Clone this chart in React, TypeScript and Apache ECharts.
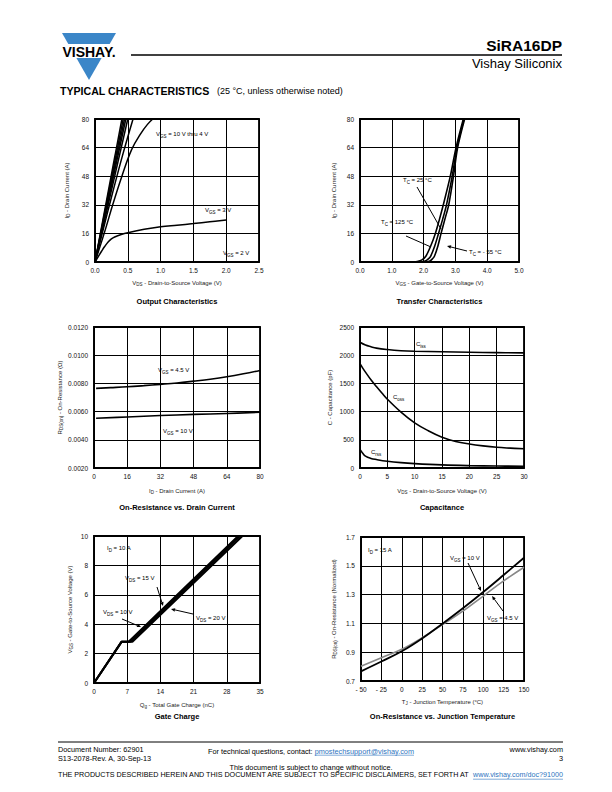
import { useEffect, useRef } from "react";
import * as echarts from "echarts";

const FONT = "Liberation Sans, Arial, Helvetica, sans-serif";

// ---------- Output Characteristics (VDS, ID) ----------
const outVgs10 = [[0, 0], [0.41, 80]];
const outVgs8 = [[0, 0], [0.43, 80]];
const outVgs7 = [[0, 0], [0.45, 80]];
const outVgs6 = [[0, 0], [0.47, 80]];
const outVgs5 = [[0, 0], [0.5, 80]];
const outVgs45 = [[0, 0], [0.2, 29], [0.4, 57], [0.58, 80]];
const outVgs4 = [[0, 0], [0.14, 16], [0.27, 32], [0.41, 48], [0.56, 63], [0.7, 72], [0.8, 77], [0.88, 80]];
const outVgs3 = [[0, 0], [0.05, 3], [0.1, 6], [0.15, 8.8], [0.2, 11.2], [0.25, 12.9], [0.3, 14], [0.4, 15.4], [0.5, 16.4], [0.75, 18.3], [1.0, 19.7], [1.25, 20.6], [1.5, 21.5], [1.75, 22.5], [2.0, 23.5]];
const outVgs2 = [[0, 0], [2.0, 0.1]];

// ---------- Transfer Characteristics (VGS, ID) ----------
const trT125 = [[0, 0], [1.6, 0], [1.8, 0.3], [1.95, 1.2], [2.07, 3.2], [2.22, 8.8], [2.37, 16], [2.5, 24], [2.62, 32], [2.84, 48], [3.02, 64], [3.25, 80]];
const trT25 = [[0, 0], [1.9, 0], [2.05, 0.5], [2.15, 1.8], [2.22, 3.2], [2.35, 9], [2.47, 16], [2.6, 24], [2.72, 32], [2.9, 48], [3.05, 64], [3.27, 80]];
const trTm55 = [[0, 0], [2.05, 0], [2.2, 0.6], [2.28, 1.8], [2.34, 3.2], [2.45, 9], [2.55, 16], [2.67, 24], [2.79, 32], [2.94, 48], [3.07, 64], [3.29, 80]];

// ---------- On-Resistance vs Drain Current (ID, RDS(on)) ----------
const ronVgs45 = [[1, 0.00765], [8, 0.0077], [16, 0.00776], [24, 0.00784], [32, 0.00793], [40, 0.00803], [48, 0.00816], [56, 0.0083], [64, 0.00847], [72, 0.00868], [80, 0.00892]];
const ronVgs10 = [[1, 0.00553], [16, 0.00562], [32, 0.00572], [48, 0.0058], [64, 0.00587], [80, 0.00595]];

// ---------- Capacitance (VDS, pF) ----------
const capCiss = [[0, 2230], [1, 2180], [2, 2150], [3, 2125], [5, 2100], [7.5, 2080], [10, 2070], [15, 2060], [20, 2052], [25, 2046], [30, 2042]];
const capCoss = [[0, 1850], [0.5, 1772], [1, 1700], [2, 1565], [3, 1445], [4, 1330], [5, 1220], [7.5, 990], [10, 800], [12.5, 660], [15, 545], [17.5, 470], [20, 425], [22.5, 392], [25, 367], [27.5, 352], [30, 340]];
const capCrss = [[0, 330], [0.5, 260], [1, 210], [2, 170], [3, 150], [5, 120], [7.5, 95], [10, 78], [15, 55], [20, 42], [25, 35], [30, 30]];

// ---------- Gate Charge (Qg, VGS) ----------
const qgVds10 = [[0, 0], [5.8, 2.8], [7.3, 2.8], [30.4, 10]];
const qgVds15 = [[0, 0], [5.8, 2.8], [7.7, 2.8], [30.8, 10]];
const qgVds20 = [[0, 0], [5.8, 2.8], [8.1, 2.8], [31.3, 10]];

// ---------- On-Resistance vs Junction Temperature ----------
const tjVgs10 = [[-50, 0.767], [-25, 0.835], [0, 0.906], [25, 0.995], [50, 1.098], [75, 1.205], [100, 1.318], [125, 1.436], [150, 1.556]];
const tjVgs45 = [[-50, 0.802], [-25, 0.862], [0, 0.92], [25, 1.0], [50, 1.092], [75, 1.185], [100, 1.29], [125, 1.395], [150, 1.49]];

// axis ranges [min, max, interval]
const axOutX = [0, 2.5, 0.5];
const axOutY = [0, 80, 16];
const axTrX = [0, 5, 1];
const axTrY = [0, 80, 16];
const axRonX = [0, 80, 16];
const axRonY = [0.002, 0.012, 0.002];
const axCapX = [0, 30, 5];
const axCapY = [0, 2500, 500];
const axQgX = [0, 35, 7];
const axQgY = [0, 10, 2];
const axTjX = [-50, 150, 25];
const axTjY = [0.7, 1.7, 0.2];

const GRIDS = [
  { left: 95, top: 119, width: 164, height: 143 },
  { left: 360, top: 119, width: 159, height: 143 },
  { left: 94, top: 327, width: 166, height: 141 },
  { left: 360, top: 327, width: 164, height: 141 },
  { left: 94, top: 536, width: 166, height: 147 },
  { left: 361, top: 537, width: 163, height: 144 },
];

const richAxis = {
  s: { fontSize: 4.5, verticalAlign: "bottom", fontFamily: FONT, color: "#222", lineHeight: 9 },
  n: { fontSize: 6, fontFamily: FONT, color: "#222", lineHeight: 9 },
};
const richG = {
  s: { fontSize: 4.5, verticalAlign: "bottom", fontFamily: FONT, fill: "#000", lineHeight: 9 },
};

function xAx(gi: number, r: number[], fmt: any, name: string, gap: number) {
  return {
    type: "value", gridIndex: gi, min: r[0], max: r[1], interval: r[2],
    axisLabel: { formatter: fmt, fontSize: 6.5, color: "#111", margin: 5, fontFamily: FONT, showMinLabel: true, showMaxLabel: true },
    axisLine: { show: true, onZero: false, lineStyle: { color: "#000", width: 1.5 } },
    axisTick: { show: false },
    splitLine: { show: true, lineStyle: { color: "#000", width: 1 } },
    name, nameLocation: "middle", nameGap: gap,
    nameTextStyle: { fontSize: 6, color: "#222", fontFamily: FONT, lineHeight: 9, rich: richAxis },
  };
}
function yAx(gi: number, r: number[], fmt: any, name: string, gap: number) {
  return {
    type: "value", gridIndex: gi, min: r[0], max: r[1], interval: r[2],
    axisLabel: { formatter: fmt, fontSize: 6.5, color: "#111", margin: 6, fontFamily: FONT, showMinLabel: true, showMaxLabel: true },
    axisLine: { show: true, onZero: false, lineStyle: { color: "#000", width: 1.5 } },
    axisTick: { show: false },
    splitLine: { show: true, lineStyle: { color: "#000", width: 1 } },
    name, nameLocation: "middle", nameGap: gap, nameRotate: 90,
    nameTextStyle: { fontSize: 6, color: "#222", fontFamily: FONT, lineHeight: 9, rich: richAxis },
  };
}

function line(gi: number, data: number[][], color = "#000", width = 1.5, smooth: any = 0.4) {
  return {
    type: "line", xAxisIndex: gi, yAxisIndex: gi, data, showSymbol: false, symbol: "none",
    smooth, lineStyle: { color, width }, silent: true,
  };
}

function txt(x: number, y: number, text: string, o: any = {}) {
  const align = o.align || "left";
  return {
    type: "text", x, y, silent: true,
    style: {
      text, fontSize: o.fontSize || 6, fontFamily: FONT, fontWeight: o.bold ? "bold" : "normal",
      fill: o.fill || "#000", align, textAlign: align, verticalAlign: "middle", textVerticalAlign: "middle",
      rich: richG,
    },
  };
}

function arrow(x1: number, y1: number, x2: number, y2: number, head = true) {
  const a = Math.atan2(y2 - y1, x2 - x1);
  const L = head ? 4 : 0, W = 1.8;
  const bx = x2 - L * Math.cos(a), by = y2 - L * Math.sin(a);
  const els: any[] = [{ type: "line", silent: true, shape: { x1, y1, x2: bx, y2: by }, style: { stroke: "#000", lineWidth: 1 } }];
  if (head) {
    els.push({
      type: "polygon", silent: true,
      shape: { points: [[x2, y2], [bx - W * Math.sin(a), by + W * Math.cos(a)], [bx + W * Math.sin(a), by - W * Math.cos(a)]] },
      style: { fill: "#000" },
    });
  }
  return els;
}

function measure(text: string, font: string) {
  const c = document.createElement("canvas").getContext("2d");
  if (!c) return text.length * 4;
  c.font = font;
  return c.measureText(text).width;
}

export default function App() {
  const ref = useRef<HTMLDivElement>(null);
  useEffect(() => {
    if (!ref.current) return;
    const chart = echarts.init(ref.current, undefined, { renderer: "svg" });

    const f1 = (v: number) => v.toFixed(1);
    const f0 = (v: number) => String(v);
    const f4 = (v: number) => v.toFixed(4);
    const fT = (v: number) => (v < 0 ? "- " + Math.abs(v) : String(v));

    const titleOf = (gi: number, t: string, y: number) => {
      const g = GRIDS[gi];
      return txt(g.left + g.width / 2, y, t, { fontSize: 7.5, bold: true, align: "center" });
    };

    // footer measurement
    const ff = 7.3;
    const fFont = `${ff}px ${FONT}`;
    const pre = "For technical questions, contact: ";
    const link1 = "pmostechsupport@vishay.com";
    const preW = measure(pre, fFont);
    const l1W = measure(link1, fFont);
    const start1 = 311 - (preW + l1W) / 2;
    const disc = "THE PRODUCTS DESCRIBED HEREIN AND THIS DOCUMENT ARE SUBJECT TO SPECIFIC DISCLAIMERS, SET FORTH AT ";
    const link2 = "www.vishay.com/doc?91000";
    const full = measure(disc + link2, fFont);
    const dfs = Math.min(ff, (ff * 505) / full);
    const l2W = measure(link2, `${dfs}px ${FONT}`);

    const graphic: any[] = [
      // logo
      { type: "polygon", silent: true, shape: { points: [[62, 33], [116, 33], [109.7, 44], [68.3, 44]] }, style: { fill: "#3B86C8" } },
      { type: "polygon", silent: true, shape: { points: [[76.4, 58], [101.6, 58], [89, 80]] }, style: { fill: "#3B86C8" } },
      txt(89, 51.5, "VISHAY.", { fontSize: 14, bold: true, align: "center" }),
      // header
      { type: "line", silent: true, shape: { x1: 131, y1: 55, x2: 562, y2: 55 }, style: { stroke: "#000", lineWidth: 1.3 } },
      txt(562, 45, "SiRA16DP", { fontSize: 15.5, bold: true, align: "right" }),
      txt(562, 63, "Vishay Siliconix", { fontSize: 13, align: "right" }),
      txt(60, 91, "TYPICAL CHARACTERISTICS", { fontSize: 10.6, bold: true }),
      txt(217, 91, "(25 °C, unless otherwise noted)", { fontSize: 9 }),
      // titles
      titleOf(0, "Output Characteristics", 301),
      titleOf(1, "Transfer Characteristics", 301),
      titleOf(2, "On-Resistance vs. Drain Current", 507),
      titleOf(3, "Capacitance", 507),
      titleOf(4, "Gate Charge", 716),
      titleOf(5, "On-Resistance vs. Junction Temperature", 716),
      // chart 1 annotations
      txt(156, 134, "V{s|GS} = 10 V thru 4 V"),
      txt(205, 210, "V{s|GS} = 3 V"),
      txt(223, 253, "V{s|GS} = 2 V"),
      // chart 2 annotations
      txt(403, 180, "T{s|C} = 25 °C"),
      ...arrow(417, 187, 441, 229, false),
      txt(381, 222, "T{s|C} = 125 °C"),
      ...arrow(406, 236, 431, 247, false),
      txt(469, 252, "T{s|C} = - 55 °C"),
      ...arrow(467, 251, 447, 246),
      // chart 3 annotations
      txt(158, 370, "V{s|GS} = 4.5 V"),
      txt(163, 431, "V{s|GS} = 10 V"),
      // chart 4 annotations
      txt(416, 344, "C{s|iss}"),
      txt(393, 397, "C{s|oss}"),
      txt(371, 452, "C{s|rss}"),
      // chart 5 annotations
      txt(107, 548, "I{s|D} = 10 A"),
      txt(125, 578, "V{s|DS} = 15 V"),
      ...arrow(157, 587, 163, 606),
      txt(103, 612, "V{s|DS} = 10 V"),
      ...arrow(122, 619, 141, 627),
      txt(196, 618, "V{s|DS} = 20 V"),
      ...arrow(193, 614, 171, 609),
      // chart 6 annotations
      txt(368, 550, "I{s|D} = 15 A"),
      txt(450, 558, "V{s|GS} = 10 V"),
      ...arrow(468, 563, 481, 591),
      txt(487, 618, "V{s|GS} = 4.5 V"),
      ...arrow(503, 611, 492, 596),
      // footer
      { type: "line", silent: true, shape: { x1: 58, y1: 742, x2: 563, y2: 742 }, style: { stroke: "#000", lineWidth: 1 } },
      txt(58, 749, "Document Number: 62901", { fontSize: ff }),
      txt(58, 758, "S13-2078-Rev. A, 30-Sep-13", { fontSize: ff }),
      txt(start1, 751, pre, { fontSize: ff }),
      txt(start1 + preW, 751, link1, { fontSize: ff, fill: "#2E74C0" }),
      { type: "line", silent: true, shape: { x1: start1 + preW, y1: 755.2, x2: start1 + preW + l1W, y2: 755.2 }, style: { stroke: "#2E74C0", lineWidth: 0.6 } },
      txt(563, 749, "www.vishay.com", { fontSize: ff, align: "right" }),
      txt(563, 758, "3", { fontSize: ff, align: "right" }),
      txt(311, 767, "This document is subject to change without notice.", { fontSize: ff, align: "center" }),
      txt(58, 775, disc, { fontSize: dfs }),
      txt(563, 775, link2, { fontSize: dfs, align: "right", fill: "#2E74C0" }),
      { type: "line", silent: true, shape: { x1: 563 - l2W, y1: 779.2, x2: 563, y2: 779.2 }, style: { stroke: "#2E74C0", lineWidth: 0.6 } },
    ];

    const option: any = {
      animation: false,
      backgroundColor: "#fff",
      textStyle: { fontFamily: FONT },
      grid: GRIDS.map((g) => ({ ...g, show: true, borderColor: "#000", borderWidth: 1.8, backgroundColor: "transparent", containLabel: false })),
      xAxis: [
        xAx(0, axOutX, f1, "V{s|DS}{n| - Drain-to-Source Voltage (V)}", 16),
        xAx(1, axTrX, f1, "V{s|GS}{n| - Gate-to-Source Voltage (V)}", 16),
        xAx(2, axRonX, f0, "I{s|D}{n| - Drain Current (A)}", 18),
        xAx(3, axCapX, f0, "V{s|DS}{n| - Drain-to-Source Voltage (V)}", 18),
        xAx(4, axQgX, f0, "Q{s|g}{n| - Total Gate Charge (nC)}", 17),
        xAx(5, axTjX, fT, "T{s|J}{n| - Junction Temperature (°C)}", 16),
      ],
      yAxis: [
        yAx(0, axOutY, f0, "I{s|D}{n| - Drain Current (A)}", 24),
        yAx(1, axTrY, f0, "I{s|D}{n| - Drain Current (A)}", 22),
        yAx(2, axRonY, f4, "R{s|DS(on)}{n| - On-Resistance (Ω)}", 27),
        yAx(3, axCapY, f0, "C - Capacitance (pF)", 26),
        yAx(4, axQgY, f0, "V{s|GS}{n| - Gate-to-Source Voltage (V)}", 20),
        yAx(5, axTjY, f1, "R{s|DS(on)}{n| - On-Resistance (Normalized)}", 23),
      ],
      series: [
        line(0, outVgs10, "#000", 1.5, false),
        line(0, outVgs8, "#000", 1.5, false),
        line(0, outVgs7, "#000", 1.5, false),
        line(0, outVgs6, "#000", 1.5, false),
        line(0, outVgs5, "#000", 1.5, false),
        line(0, outVgs45),
        line(0, outVgs4),
        line(0, outVgs3),
        line(0, outVgs2, "#000", 1.5, false),
        line(1, trT125, "#000", 1.6, 0.3),
        line(1, trT25, "#000", 1.6, 0.3),
        line(1, trTm55, "#000", 1.6, 0.3),
        line(2, ronVgs45, "#000", 1.6),
        line(2, ronVgs10, "#000", 1.6),
        line(3, capCiss, "#000", 1.6),
        line(3, capCoss, "#000", 1.6),
        line(3, capCrss, "#000", 1.6),
        line(4, qgVds10, "#000", 2, false),
        line(4, qgVds15, "#000", 2, false),
        line(4, qgVds20, "#000", 2, false),
        line(5, tjVgs45, "#888", 1.6),
        line(5, tjVgs10, "#000", 1.8),
      ],
      graphic,
    };
    chart.setOption(option);
    return () => chart.dispose();
  }, []);

  return (
    <div
      ref={ref}
      style={{ position: "absolute", left: 0, top: 0, width: 612, height: 792, background: "#fff" }}
    />
  );
}
